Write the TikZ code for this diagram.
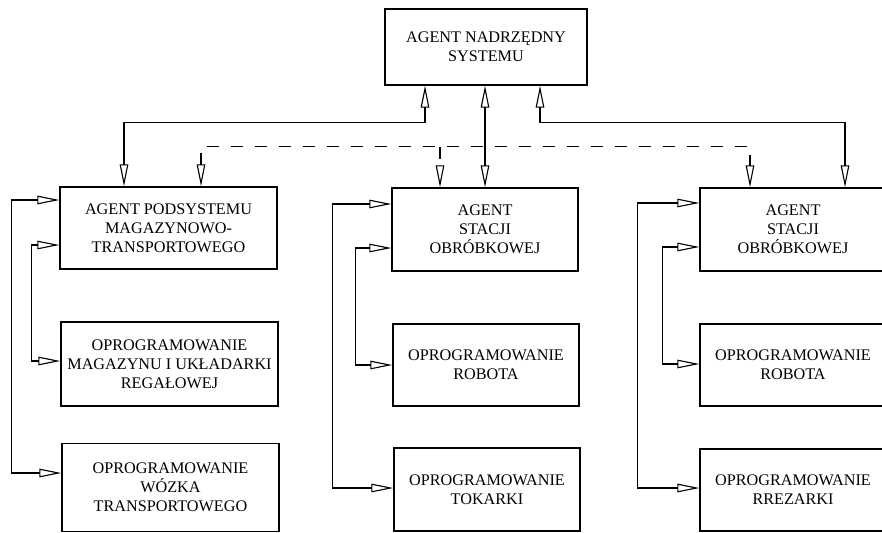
\documentclass[tikz,border=0pt]{standalone}
\usepackage{fontspec}
\setmainfont{Liberation Serif}
\usetikzlibrary{arrows.meta}
\tikzset{
  box/.style={draw, line width=1.3pt, align=center, inner sep=0pt,
    font=\fontsize{16.2}{19}\selectfont},
  conn/.style={line width=1.1pt, line join=miter},
  bi/.style={conn, {Triangle[open, length=22pt, width=8.5pt, line width=1.1pt]}-{Triangle[open, length=22pt, width=8.5pt, line width=1.1pt]}},
  fwd/.style={conn, -{Triangle[open, length=22pt, width=8.5pt, line width=1.1pt]}},
  dashline/.style={dash pattern=on 12pt off 12pt}
}
\begin{document}
\begin{tikzpicture}[x=1pt, y=-1pt]
\useasboundingbox (0,0) rectangle (882,532);
\clip (0,0) rectangle (882,532);
\node[box, minimum width=202pt, minimum height=76pt] (top) at (486,47) {AGENT NADRZĘDNY\\SYSTEMU};
\node[box, minimum width=217pt, minimum height=82pt] (L1) at (168.5,228) {AGENT PODSYSTEMU\\MAGAZYNOWO-\\TRANSPORTOWEGO};
\node[box, minimum width=217pt, minimum height=84pt] (L2) at (169.5,364) {OPROGRAMOWANIE\\MAGAZYNU I UKŁADARKI\\REGAŁOWEJ};
\node[box, minimum width=217pt, minimum height=88pt] (L3) at (170.5,487.5) {OPROGRAMOWANIE\\WÓZKA\\TRANSPORTOWEGO};
\node[box, minimum width=186pt, minimum height=83pt] (M1) at (485,229.5) {AGENT\\STACJI\\OBRÓBKOWEJ};
\node[box, minimum width=186pt, minimum height=82pt] (M2) at (486,365) {OPROGRAMOWANIE\\ROBOTA};
\node[box, minimum width=186pt, minimum height=83pt] (M3) at (487,489.5) {OPROGRAMOWANIE\\TOKARKI};
\node[box, minimum width=186pt, minimum height=83pt] (R1) at (793,229.5) {AGENT\\STACJI\\OBRÓBKOWEJ};
\node[box, minimum width=186pt, minimum height=82pt] (R2) at (793,365) {OPROGRAMOWANIE\\ROBOTA};
\node[box, minimum width=186pt, minimum height=82pt] (R3) at (793,490) {OPROGRAMOWANIE\\RREZARKI};
% top level solid connectors
\draw[bi] ([xshift=-61pt]top.south) -- ++(0,37) -| ([xshift=-44.5pt]L1.north);
\draw[bi] (M1.north |- top.south) -- (M1.north);
\draw[bi] ([xshift=54pt]top.south) -- ++(0,37) -| ([xshift=52pt]R1.north);
% dashed connectors
\draw[bi, dashline] ([xshift=32.5pt]L1.north) -- ++(0,-40) -| ([xshift=-43pt]R1.north);
\coordinate (dj) at (440,147);
\draw[fwd, dashline] (dj) -- (dj |- M1.north);
% left column
\draw[bi] ([yshift=28pt]L1.west) -- ++(-48,0) |- ([yshift=14.5pt]L3.west);
\draw[bi] ([yshift=-17pt]L1.west) -- ++(-28,0) |- ([yshift=3pt]L2.west);
% middle column
\draw[bi] ([yshift=25.5pt]M1.west) -- ++(-59,0) |- ([yshift=1.5pt]M3.west);
\draw[bi] ([yshift=-18.5pt]M1.west) -- ++(-36,0) |- (M2.west);
% right column
\draw[bi] ([yshift=26.5pt]R1.west) -- ++(-62,0) |- ([yshift=2pt]R3.west);
\draw[bi] ([yshift=-17.5pt]R1.west) -- ++(-37,0) |- ([yshift=1pt]R2.west);
\end{tikzpicture}
\end{document}
